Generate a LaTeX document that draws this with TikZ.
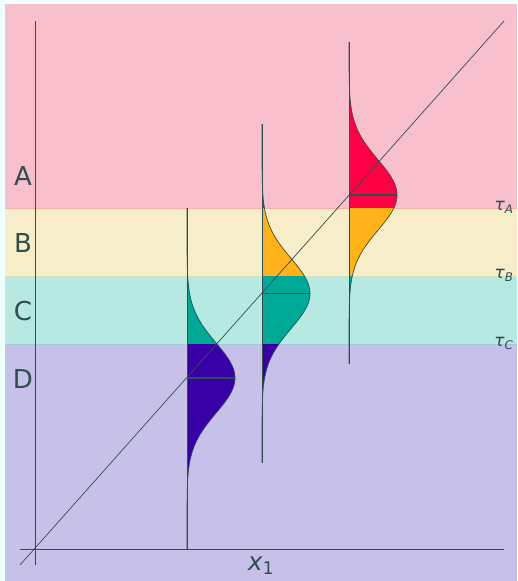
\documentclass[tikz,border=0pt]{standalone}
\usepackage{fontspec}
\setmainfont{DejaVu Sans}
\definecolor{bgc}{HTML}{F0FFFF}
\definecolor{bandA}{HTML}{F7C0CC}
\definecolor{bandB}{HTML}{F7EDC9}
\definecolor{bandC}{HTML}{B5E9E2}
\definecolor{bandD}{HTML}{C7C1EA}
\definecolor{edgeA}{HTML}{F6AFA8}
\definecolor{edgeB}{HTML}{CDE5C3}
\definecolor{edgeC}{HTML}{A0C6E2}
\definecolor{fillA}{HTML}{FF0044}
\definecolor{fillB}{HTML}{FFB319}
\definecolor{fillC}{HTML}{00A896}
\definecolor{fillD}{HTML}{3A00A8}
\definecolor{ink}{HTML}{2F4F4F}
\newcommand{\gpath}[4]{(#1,#3) -- plot[domain=#3:#4,samples=150] ({#1+48*exp(-0.5*((\x-#2)/35)^2)},\x) -- (#1,#4) -- cycle}
\newcommand{\gcurve}[4]{plot[domain=#3:#4,samples=150] ({#1+48*exp(-0.5*((\x-#2)/35)^2)},\x)}
\tikzset{
  curveline/.style={draw=ink, line width=0.7pt},
  axisline/.style={draw=ink, line width=1pt},
  meanline/.style={draw=ink, line width=1.2pt},
  lab/.style={text=ink, font=\fontsize{26}{26}\selectfont, inner sep=0pt},
  taulab/.style={text=ink, font=\fontsize{17}{17}\selectfont, inner sep=0pt},
}
\begin{document}
\begin{tikzpicture}[x=1pt,y=-1pt]
\useasboundingbox (0,0) rectangle (517,581);
\fill[bgc] (0,0) rectangle (517,581);
% bands
\fill[bandA] (5,4) rectangle (517,208);
\fill[bandB] (5,208) rectangle (517,276);
\fill[bandC] (5,276) rectangle (517,344);
\fill[bandD] (5,344) rectangle (517,581);
\draw[edgeA, line width=0.8pt] (5,208) -- (517,208);
\draw[edgeB, line width=0.8pt] (5,276) -- (517,276);
\draw[edgeC, line width=0.8pt] (5,344) -- (517,344);
% fills of the three densities, coloured by band
\foreach \xo/\mu/\yt/\yb in {187/378/208/549, 262/293.5/124/463, 349/195/42/364} {
  \begin{scope}\clip (0,0) rectangle (517,208); \fill[fillA] \gpath{\xo}{\mu}{\yt}{\yb}; \end{scope}
  \begin{scope}\clip (0,208) rectangle (517,276); \fill[fillB] \gpath{\xo}{\mu}{\yt}{\yb}; \end{scope}
  \begin{scope}\clip (0,276) rectangle (517,344); \fill[fillC] \gpath{\xo}{\mu}{\yt}{\yb}; \end{scope}
  \begin{scope}\clip (0,344) rectangle (517,581); \fill[fillD] \gpath{\xo}{\mu}{\yt}{\yb}; \end{scope}
  \draw[curveline] \gcurve{\xo}{\mu}{\yt}{\yb};
  \draw[curveline, line width=0.9pt] (\xo,\yt) -- (\xo,\yb);
  \draw[meanline] (\xo,\mu) -- ({\xo+48},\mu);
}
% axes
\coordinate (ytop) at (35,21);
\coordinate (ybot) at (35,565);
\coordinate (xl) at (20,549);
\coordinate (xr) at (504,549);
\coordinate (dl) at (20,565);
\coordinate (dr) at (504,21);
\draw[axisline] (ytop) -- (ybot);
\draw[axisline] (xl) -- (xr);
\draw[curveline] (dl) -- (dr);
% labels
\node[lab] (lA) at (23,176) {A};
\node[lab] (lB) at (23,243) {B};
\node[lab] (lC) at (23,311) {C};
\node[lab] (lD) at (23,379) {D};
\node[taulab] (tA) at (504,207) {{\itshape τ}\textsubscript{\itshape A}};
\node[taulab] (tB) at (504,275) {{\itshape τ}\textsubscript{\itshape B}};
\node[taulab] (tC) at (504,343) {{\itshape τ}\textsubscript{\itshape C}};
\node[lab, font=\fontsize{25}{25}\selectfont] (xlab) at (261,566) {{\itshape x}\textsubscript{1}};
\end{tikzpicture}
\end{document}
